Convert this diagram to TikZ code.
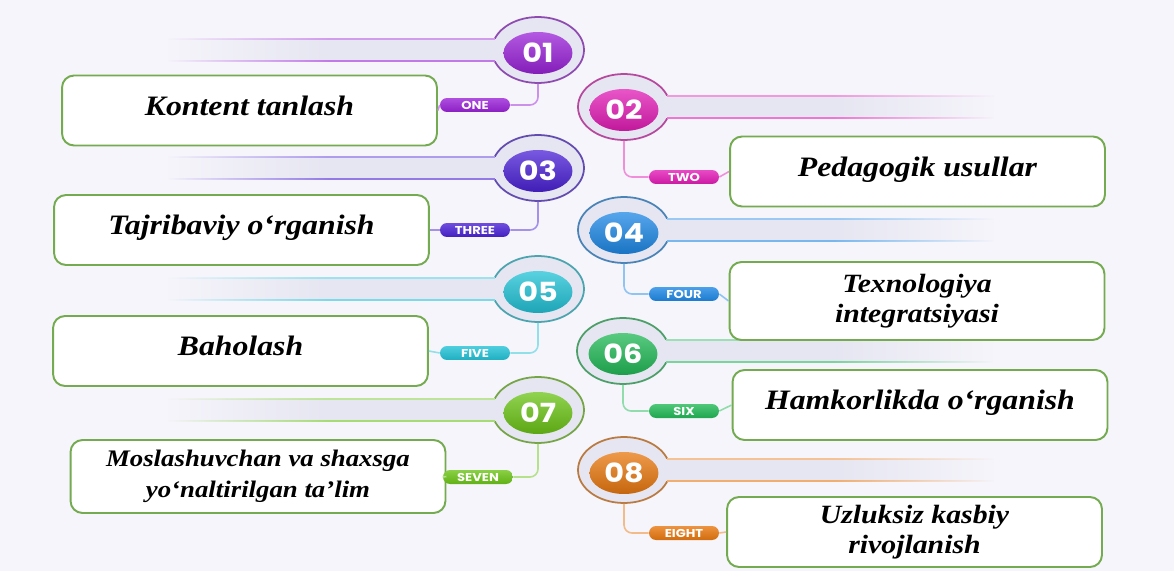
\documentclass[tikz,border=0pt]{standalone}
\usepackage{fontspec}
\setmainfont{Liberation Serif}[FakeStretch=1.13]
\newfontfamily\numfont{Poppins}[FakeStretch=1.15]
\definecolor{BgLavender}{HTML}{F6F5FB}
\definecolor{BarGray}{HTML}{E6E6F2}
\definecolor{BoxGreen}{HTML}{74AA50}
\definecolor{StepOne}{HTML}{9A22D8}
\definecolor{StepTwo}{HTML}{E21DB6}
\definecolor{StepThree}{HTML}{4B22D6}
\definecolor{StepFour}{HTML}{1E88E5}
\definecolor{StepFive}{HTML}{22C2D6}
\definecolor{StepSix}{HTML}{22B957}
\definecolor{StepSeven}{HTML}{6CC417}
\definecolor{StepEight}{HTML}{E8780F}
\usetikzlibrary{positioning,shapes.geometric,fadings}

\tikzset{
  ring/.style={ellipse,minimum width=1.84cm,minimum height=1.32cm,fill=BarGray,draw=#1!55!gray,line width=1pt},
  badge/.style={ellipse,minimum width=1.38cm,minimum height=0.84cm,inner sep=0pt,
    top color=#1!75!white,bottom color=#1!85!black,text=white,
    font=\numfont\bfseries\fontsize{15}{15}\selectfont},
  pill/.style={rectangle,rounded corners=0.14cm,minimum width=1.4cm,minimum height=0.28cm,inner sep=0pt,
    top color=#1!80!white,bottom color=#1!90!black,text=white,
    font=\numfont\bfseries\fontsize{6.5}{7}\selectfont},
  link/.style={draw=#1!50!white,line width=0.9pt,rounded corners=0.16cm},
  textbox/.style={rectangle,rounded corners=0.24cm,draw=BoxGreen,line width=1.1pt,fill=white,
    minimum width=7.5cm,minimum height=1.4cm,align=center,
    font=\bfseries\itshape\fontsize{16}{18}\selectfont},
  oneline/.style={text depth=0.55em}
}

\begin{document}
\begin{tikzpicture}[x=0.02cm,y=-0.02cm]
  \fill[BgLavender] (0,0) rectangle (1174,571);
  \useasboundingbox (0,0) rectangle (1174,571);

  % rings with their bars
  \foreach \n/\cx/\cy/\col/\dir/\fd in {1/538/50/StepOne/-1/west,2/624/107/StepTwo/1/east,
      3/538/168/StepThree/-1/west,4/624/230/StepFour/1/east,5/538/289/StepFive/-1/west,
      6/623/351/StepSix/1/east,7/538/410/StepSeven/-1/west,8/624/470/StepEight/1/east}{
    \node[ring=\col] (r\n) at (\cx,\cy) {};
    \fill[BarGray,path fading=\fd] ({\cx+\dir*370},{\cy-11}) rectangle ({\cx+\dir*210},{\cy+11});
    \fill[BarGray] ({\cx+\dir*210},{\cy-11}) rectangle (\cx,{\cy+11});
    \draw[\col!45!white,line width=0.9pt,path fading=\fd]
      ({\cx+\dir*370},{\cy-11}) -- ({\cx+\dir*210},{\cy-11});
    \draw[\col!60!white,line width=1.4pt,path fading=\fd]
      ({\cx+\dir*370},{\cy+11}) -- ({\cx+\dir*210},{\cy+11});
    \draw[\col!45!white,line width=0.9pt] ({\cx+\dir*210},{\cy-11}) -- ({\cx+\dir*43},{\cy-11});
    \draw[\col!60!white,line width=1.4pt] ({\cx+\dir*210},{\cy+11}) -- ({\cx+\dir*43},{\cy+11});
    \node[badge=\col] at (\cx,{\cy+3}) {0\n};
  }

  % text boxes
  \node[textbox,oneline] (b1) at (249.5,110.5) {Kontent tanlash};
  \node[textbox,oneline] (b2) at (917.5,171.5) {Pedagogik usullar};
  \node[textbox,oneline] (b3) at (241.5,230) {Tajribaviy o‘rganish};
  \node[textbox,minimum height=1.56cm,font=\bfseries\itshape\fontsize{15}{17}\selectfont] (b4) at (917,301)
    {Texnologiya\\integratsiyasi};
  \node[textbox,oneline] (b5) at (240.5,351) {Baholash};
  \node[textbox,oneline] (b6) at (920,405) {Hamkorlikda o‘rganish};
  \node[textbox,minimum height=1.46cm,font=\bfseries\itshape\fontsize{13.5}{18}\selectfont] (b7) at (258,476.5)
    {Moslashuvchan va shaxsga\\yo‘naltirilgan ta’lim};
  \node[textbox,font=\bfseries\itshape\fontsize{15}{17}\selectfont] (b8) at (914.5,532)
    {Uzluksiz kasbiy\\rivojlanish};

  % small labels and links
  \foreach \n/\px/\py/\word/\col/\a/\b in {1/475/105/ONE/StepOne/east/west,2/684/177/TWO/StepTwo/west/east,
      3/475/230/THREE/StepThree/east/west,4/684/294/FOUR/StepFour/west/east,
      5/475/353/FIVE/StepFive/east/west,6/684/411/SIX/StepSix/west/east,
      7/478/477/SEVEN/StepSeven/east/west,8/684/533/EIGHT/StepEight/west/east}{
    \node[pill=\col] (p\n) at (\px,\py) {\word};
    \draw[link=\col] (r\n.south) |- (p\n.\a);
    \draw[link=\col] (p\n.\b) -- (b\n.\a);
  }
\end{tikzpicture}
\end{document}
